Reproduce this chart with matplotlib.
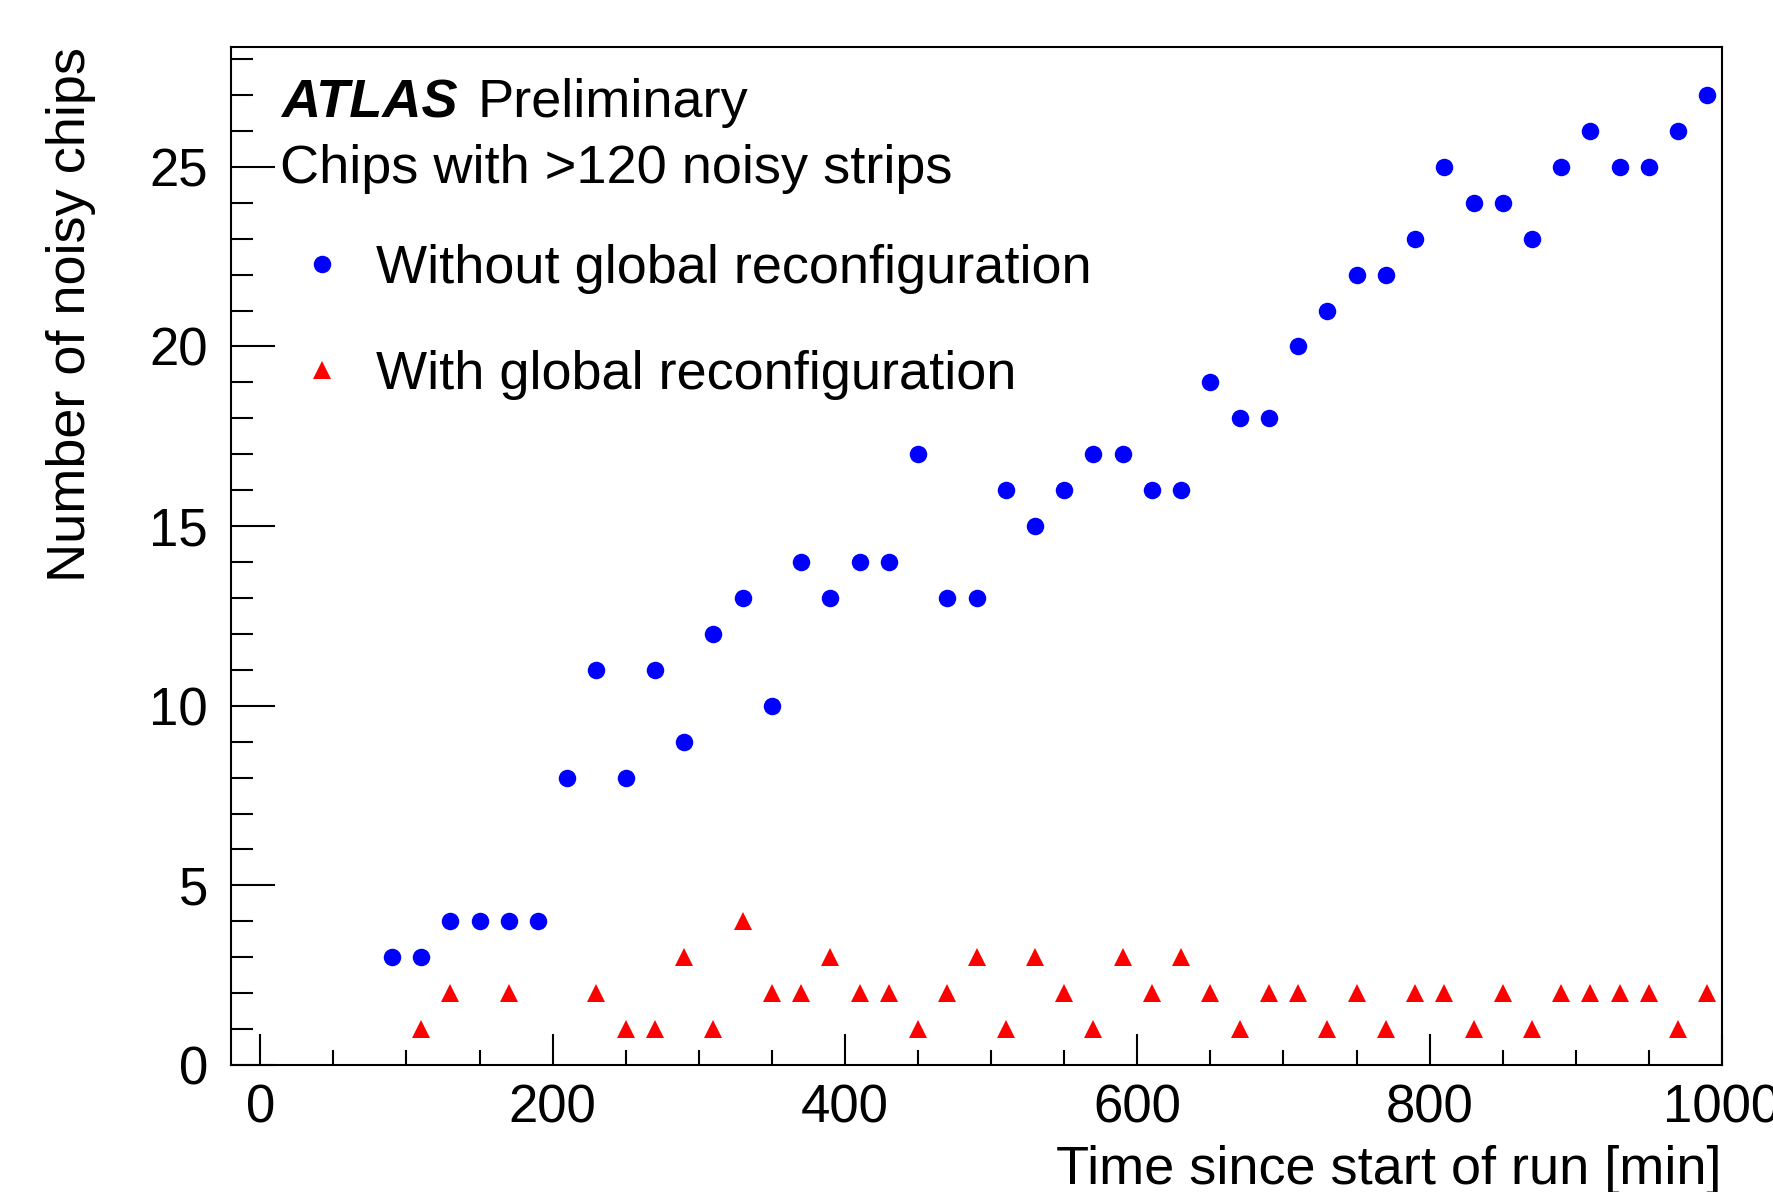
import matplotlib
matplotlib.use("Agg")
import matplotlib.pyplot as plt
from matplotlib.ticker import MultipleLocator

plt.rcParams['font.family'] = ['Liberation Sans', 'DejaVu Sans']

W, H = 1773, 1192

# data
time_no_reconf = [90, 110, 130, 150, 170, 190, 210, 230, 250, 270, 290, 310, 330, 350,
                  370, 390, 410, 430, 450, 470, 490, 510, 530, 550, 570, 590, 610, 630,
                  650, 670, 690, 710, 730, 750, 770, 790, 810, 830, 850, 870, 890, 910,
                  930, 950, 970, 990]
chips_no_reconf = [3, 3, 4, 4, 4, 4, 8, 11, 8, 11, 9, 12, 13, 10,
                   14, 13, 14, 14, 17, 13, 13, 16, 15, 16, 17, 17, 16, 16,
                   19, 18, 18, 20, 21, 22, 22, 23, 25, 24, 24, 23, 25, 26,
                   25, 25, 26, 27]

time_reconf = [110, 130, 170, 230, 250, 270, 290, 310, 330, 350, 370, 390, 410, 430,
               450, 470, 490, 510, 530, 550, 570, 590, 610, 630, 650, 670, 690, 710,
               730, 750, 770, 790, 810, 830, 850, 870, 890, 910, 930, 950, 970, 990]
chips_reconf = [1, 2, 2, 2, 1, 1, 3, 1, 4, 2, 2, 3, 2, 2,
                1, 2, 3, 1, 3, 2, 1, 3, 2, 3, 2, 1, 2, 2,
                1, 2, 1, 2, 2, 1, 2, 1, 2, 2, 2, 2, 1, 2]

label_no_reconf = "Without global reconfiguration"
label_reconf = "With global reconfiguration"

fig = plt.figure(figsize=(W / 100, H / 100), dpi=100)
ax = fig.add_axes([231 / W, 1 - 1065 / H, (1722 - 231) / W, (1065 - 46.5) / H])

ax.plot(time_no_reconf, chips_no_reconf, 'o', color='#0000ff', markersize=12.6,
        markeredgewidth=0, label=label_no_reconf)
ax.plot(time_reconf, chips_reconf, '^', color='#ff0000', markersize=13.5,
        markeredgewidth=0, label=label_reconf)

ax.set_xlim(-20, 1000)
ax.set_ylim(0, 28.35)

for s in ax.spines.values():
    s.set_linewidth(1.5)

ax.xaxis.set_major_locator(MultipleLocator(200))
ax.xaxis.set_minor_locator(MultipleLocator(50))
ax.yaxis.set_major_locator(MultipleLocator(5))
ax.yaxis.set_minor_locator(MultipleLocator(1))
ax.tick_params(axis='both', which='both', direction='in', top=False, right=False,
               width=1.5, labelsize=38)
ax.tick_params(axis='x', which='major', length=22, pad=13)
ax.tick_params(axis='x', which='minor', length=11)
ax.tick_params(axis='y', which='major', length=32, pad=16.5)
ax.tick_params(axis='y', which='minor', length=16)

ax.set_xlabel("Time since start of run [min]", fontsize=39, ha='right')
ax.xaxis.set_label_coords(1.0, -(1145 - 1065) / (1065 - 46.5))
ax.set_ylabel("Number of noisy chips", fontsize=39, ha='right')
ax.yaxis.set_label_coords(-(231 - 96) / (1722 - 231), 1.0)

atlas = fig.text(281 / W, 1 - 117 / H, "ATLAS", fontsize=39, weight='bold',
                 style='italic', va='baseline')
ax.annotate("Preliminary", xy=(1, 0), xycoords=atlas, xytext=(20, 0),
            textcoords='offset pixels', fontsize=39, va='bottom')
fig.text(280 / W, 1 - 183 / H, "Chips with >120 noisy strips", fontsize=39,
         va='baseline')

ax.legend(loc='upper left', bbox_to_anchor=(295 / W, 1 - 244 / H),
          bbox_transform=fig.transFigure, frameon=False, fontsize=39,
          handlelength=1.0, handletextpad=0.5, labelspacing=1.04,
          borderpad=0, borderaxespad=0, numpoints=1)

fig.savefig("out.png", dpi=100)
